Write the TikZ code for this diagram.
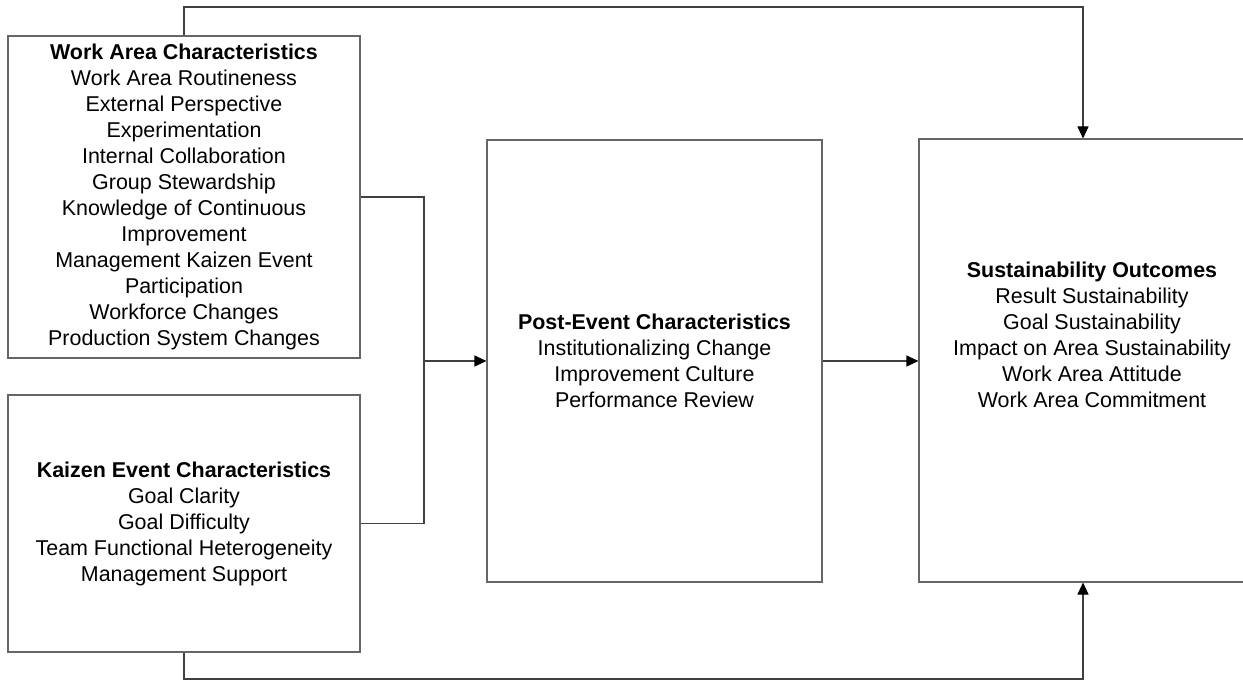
\documentclass[tikz,border=0pt]{standalone}
\usepackage{fontspec}
\setmainfont{Liberation Sans}
\usetikzlibrary{arrows.meta}

\begin{document}
\begin{tikzpicture}[scale=1,
    box/.style={draw=black!60, line width=0.6pt, align=center,
      font=\fontsize{12.2}{14.8}\selectfont},
    txt/.style={align=center, font=\fontsize{12.2}{14.8}\selectfont},
    link/.style={draw=black!75, line width=0.6pt},
    arr/.style={link, -{Triangle[length=0.24cm,width=0.22cm,color=black]}}]

  \useasboundingbox (0,0) rectangle (24.86,13.62);

  % the four boxes
  \node[box, minimum width=7.04cm, minimum height=6.44cm] (wa) at (3.68,9.68)
  {\textbf{Work Area Characteristics}\\ Work Area Routineness\\ External Perspective\\
    Experimentation\\ Internal Collaboration\\ Group Stewardship\\
    Knowledge of Continuous\\ Improvement\\ Management Kaizen Event\\
    Participation\\ Workforce Changes\\ Production System Changes};

  \node[box, minimum width=7.04cm, minimum height=5.14cm] (ke) at (3.68,3.15)
  {\textbf{Kaizen Event Characteristics}\\ Goal Clarity\\ Goal Difficulty\\
    Team Functional Heterogeneity\\ Management Support};

  \node[box, minimum width=6.70cm, minimum height=8.84cm] (pe) at (13.09,6.40)
  {\textbf{Post-Event Characteristics}\\ Institutionalizing Change\\
    Improvement Culture\\ Performance Review};

  \node[box, minimum width=6.92cm, minimum height=8.86cm] (so) at (21.84,6.41) {};
  \node[txt] (sotext) at (21.84,6.92)
  {\textbf{Sustainability Outcomes}\\ Result Sustainability\\ Goal Sustainability\\
    Impact on Area Sustainability\\ Work Area Attitude\\ Work Area Commitment};

  % coordinates for the connectors
  \coordinate (join) at (8.48,6.40);
  \coordinate (top) at (0,13.48);
  \coordinate (bottom) at (0,0.04);
  \coordinate (sotop) at ([xshift=-0.18cm]so.north);
  \coordinate (sobot) at ([xshift=-0.18cm]so.south);

  \draw[link] (wa.east) -| (join) |- (ke.east);
  \draw[arr] (join) -- (pe.west);
  \draw[arr] (pe.east) -- (so.west |- pe.east);

  \draw[arr] (wa.north) |- (top -| sotop) -- (sotop);
  \draw[arr] (ke.south) |- (bottom -| sobot) -- (sobot);
\end{tikzpicture}
\end{document}
